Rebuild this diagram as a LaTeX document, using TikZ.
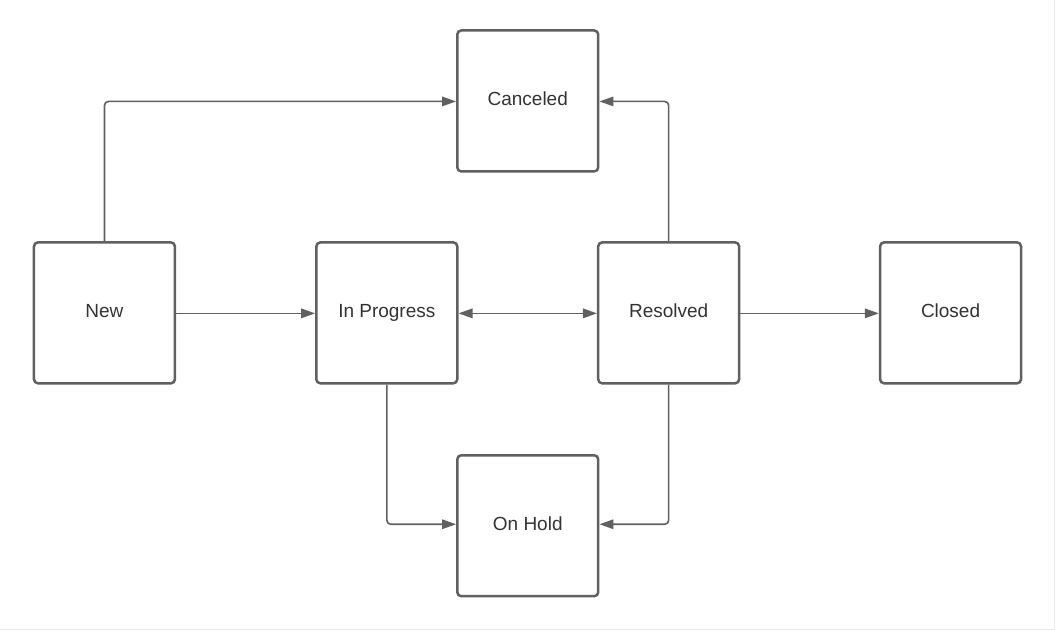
\documentclass[tikz,border=0pt]{standalone}
\usepackage{fontspec}
\setmainfont{Liberation Sans}
\usetikzlibrary{arrows.meta}
\definecolor{edge}{HTML}{606060}
\definecolor{txt}{HTML}{333333}
\begin{document}
\begin{tikzpicture}[x=1pt,y=-1pt,
  state/.style={draw=edge, line width=2.5pt, rounded corners=4pt, fill=white,
    minimum width=141pt, minimum height=141pt, inner sep=0pt, text=txt,
    font=\fontsize{19}{22}\selectfont},
  conn/.style={draw=edge, line width=1.6pt, rounded corners=4pt,
    -{Triangle[length=14pt,width=9.5pt]}},
  conn2/.style={conn, {Triangle[length=14pt,width=9.5pt]}-{Triangle[length=14pt,width=9.5pt]}}]
\fill[white] (0,0) rectangle (1056,630);
\draw[black!8, line width=1pt] (0,629.5) -- (1054.5,629.5) -- (1054.5,0);
\useasboundingbox (0,0) rectangle (1056,630);
\node[state] (new) at (104,312.5) {\raisebox{4pt}{New}};
\node[state] (prog) at (386.5,312.5) {\raisebox{4pt}{In Progress}};
\node[state] (res) at (668.5,312.5) {\raisebox{4pt}{Resolved}};
\node[state] (closed) at (950.5,312.5) {\raisebox{4pt}{Closed}};
\node[state] (cancel) at (527.5,100.5) {\raisebox{4pt}{Canceled}};
\node[state] (hold) at (527.5,525.5) {\raisebox{4pt}{On Hold}};
\coordinate (c1) at (104,101);
\coordinate (c2) at (668.5,101);
\coordinate (c3) at (386.5,524);
\coordinate (c4) at (668.5,524);
\draw[conn] (new.north) -- (c1) -- (c1 -| cancel.west);
\draw[conn] (res.north) -- (c2) -- (c2 -| cancel.east);
\draw[conn] ([yshift=-0.5pt]new.east) -- ([yshift=-0.5pt]prog.west);
\draw[conn2] ([yshift=-0.5pt]prog.east) -- ([yshift=-0.5pt]res.west);
\draw[conn] ([yshift=-0.5pt]res.east) -- ([yshift=-0.5pt]closed.west);
\draw[conn] (prog.south) -- (c3) -- (c3 -| hold.west);
\draw[conn] (res.south) -- (c4) -- (c4 -| hold.east);
\end{tikzpicture}
\end{document}
